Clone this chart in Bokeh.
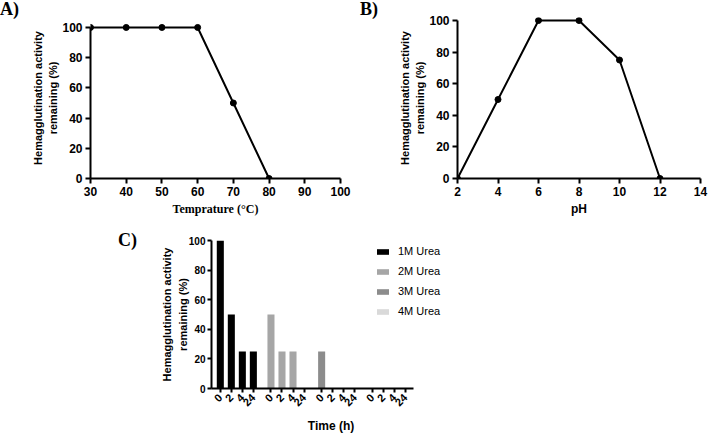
from bokeh.plotting import figure
from bokeh.layouts import column, row
from bokeh.models import Range1d, Legend, LegendItem, FixedTicker, ColumnDataSource, Div, Spacer
from bokeh.embed import file_html
from bokeh.resources import INLINE
import math

# ---- data ----
temp_x = [30, 40, 50, 60, 70, 80]
temp_y = [100, 100, 100, 100, 50, 0]
ph_x = [2, 4, 6, 8, 10, 12]
ph_y = [0, 50, 100, 100, 75, 0]
times = ["0", "2", "4", "24"]
urea = ["1M Urea", "2M Urea", "3M Urea", "4M Urea"]
urea_vals = {
    "1M Urea": [100, 50, 25, 25],
    "2M Urea": [50, 25, 25, 0],
    "3M Urea": [25, 0, 0, 0],
    "4M Urea": [0, 0, 0, 0],
}
urea_colors = ["#000000", "#a6a6a6", "#8c8c8c", "#d9d9d9"]
ylab = "Hemagglutination activity\nremaining (%)"
panel_letters = ["A)", "B)", "C)"]

SANS = "Liberation Sans"
SERIF = "Liberation Serif"
ROW1_H = 220
ROW2_H = 215


def style_axes(p, tick_size="12px", lab_size="11px"):
    for ax in (p.xaxis[0], p.yaxis[0]):
        ax.axis_line_width = 2
        ax.major_tick_line_width = 2
        ax.major_tick_out = 5
        ax.major_tick_in = 0
        ax.major_label_standoff = 3
        ax.minor_tick_line_color = None
        ax.major_label_text_font = SANS
        ax.major_label_text_font_style = "bold"
        ax.major_label_text_font_size = tick_size
        ax.major_label_text_color = "black"
        ax.axis_label_text_font = SANS
        ax.axis_label_text_font_style = "bold"
        ax.axis_label_text_font_size = lab_size
        ax.axis_label_text_line_height = 1.3
        ax.axis_label_text_color = "black"
        ax.axis_line_color = "black"
        ax.major_tick_line_color = "black"
    p.xgrid.grid_line_color = None
    p.ygrid.grid_line_color = None
    p.outline_line_color = None
    p.background_fill_color = None
    p.border_fill_color = None


def letter_div(text, w, h, top_pad):
    html = (f'<div style="font-family:\'{SERIF}\';font-weight:bold;font-size:18px;'
            f'line-height:18px;color:black;margin:0;padding-top:{top_pad}px;">{text}</div>')
    return Div(text=html, width=w, height=h, margin=0)


# ---- Panel A ----
LA = letter_div(panel_letters[0], 24, ROW1_H, 0)
pA = figure(width=336, height=ROW1_H, output_backend="svg", toolbar_location=None,
            title_location=None,
            x_range=Range1d(30, 100), y_range=Range1d(0, 106.6),
            min_border_left=66, min_border_right=20, min_border_top=17, min_border_bottom=42)
pA.line(temp_x, temp_y, line_color="black", line_width=2)
pA.scatter(temp_x, temp_y, size=6, color="black")
style_axes(pA)
pA.xaxis.ticker = FixedTicker(ticks=[30, 40, 50, 60, 70, 80, 90, 100])
pA.yaxis.ticker = FixedTicker(ticks=[0, 20, 40, 60, 80, 100])
pA.yaxis.bounds = (0, 100)
pA.yaxis.axis_label = ylab
pA.xaxis.axis_label = "Temprature (°C)"
pA.xaxis.axis_label_text_font = SERIF
pA.xaxis.axis_label_text_font_size = "12px"
pA.xaxis.axis_label_standoff = 3
pA.yaxis.axis_label_standoff = 0

# ---- Panel B ----
LB = letter_div(panel_letters[1], 32, ROW1_H, 0)
pB = figure(width=316, height=ROW1_H, output_backend="svg", toolbar_location=None,
            title_location=None,
            x_range=Range1d(2, 14), y_range=Range1d(0, 101.9),
            min_border_left=65, min_border_right=8, min_border_top=17, min_border_bottom=42)
pB.line(ph_x, ph_y, line_color="black", line_width=2)
pB.scatter(ph_x, ph_y, size=6, color="black")
style_axes(pB)
pB.xaxis.ticker = FixedTicker(ticks=[2, 4, 6, 8, 10, 12, 14])
pB.yaxis.ticker = FixedTicker(ticks=[0, 20, 40, 60, 80, 100])
pB.yaxis.bounds = (0, 100)
pB.yaxis.axis_label = ylab
pB.xaxis.axis_label = "pH"
pB.xaxis.axis_label_text_font_size = "12px"
pB.xaxis.axis_label_standoff = 3
pB.yaxis.axis_label_standoff = 0

# ---- Panel C ----
LC = letter_div(panel_letters[2], 32, ROW2_H, 11)

STEP = 10          # spacing between bars of one group (axis units)
GROUP = 46         # spacing between first bars of consecutive groups
xs, tops, cols, tick_labels = [], [], [], {}
for gi, u in enumerate(urea):
    for ti, t in enumerate(times):
        pos = gi * GROUP + ti * STEP
        xs.append(pos)
        tops.append(urea_vals[u][ti])
        cols.append(urea_colors[gi])
        tick_labels[pos] = t
src = ColumnDataSource(dict(x=xs, top=tops, color=cols))

pC = figure(width=310, height=ROW2_H, output_backend="svg", toolbar_location=None,
            title_location=None,
            x_range=Range1d(-8, 209), y_range=Range1d(0, 100),
            min_border_left=61, min_border_right=10, min_border_top=20, min_border_bottom=47)
pC.vbar(x="x", top="top", width=6.4, fill_color="color", line_color=None, source=src)
style_axes(pC, tick_size="10px", lab_size="11px")
pC.yaxis.ticker = FixedTicker(ticks=[0, 20, 40, 60, 80, 100])
pC.xaxis.ticker = FixedTicker(ticks=xs)
pC.xaxis.major_label_overrides = tick_labels
pC.xaxis.major_label_text_font_size = "11px"
pC.xaxis.bounds = (-8, xs[-1] + 7)
pC.yaxis.axis_label = ylab
pC.yaxis.axis_label_standoff = -3
pC.yaxis.major_label_standoff = 2
pC.yaxis.major_tick_out = 4
pC.xaxis.major_tick_out = 4
pC.xaxis.major_label_orientation = math.pi / 4
pC.xaxis.axis_label = "Time (h)"
pC.xaxis.axis_label_text_font_size = "12px"
pC.xaxis.axis_label_standoff = 6

leg_items = []
for i, u in enumerate(urea):
    r = pC.vbar(x=[xs[0]], top=[0], width=6.4, fill_color=urea_colors[i], line_color=None)
    leg_items.append(LegendItem(label=u, renderers=[r]))
legend = Legend(items=leg_items, location=(164, 70), padding=0, margin=0,
                glyph_width=15, glyph_height=7, label_height=14, spacing=6,
                label_text_font=SANS, label_text_font_size="11px", label_standoff=8,
                label_text_color="black",
                border_line_color=None, background_fill_alpha=0)
pC.add_layout(legend)

layout = column(row(LA, pA, LB, pB), row(Spacer(width=118, height=ROW2_H), LC, pC))
open("out.html", "w").write(file_html(layout, INLINE))
